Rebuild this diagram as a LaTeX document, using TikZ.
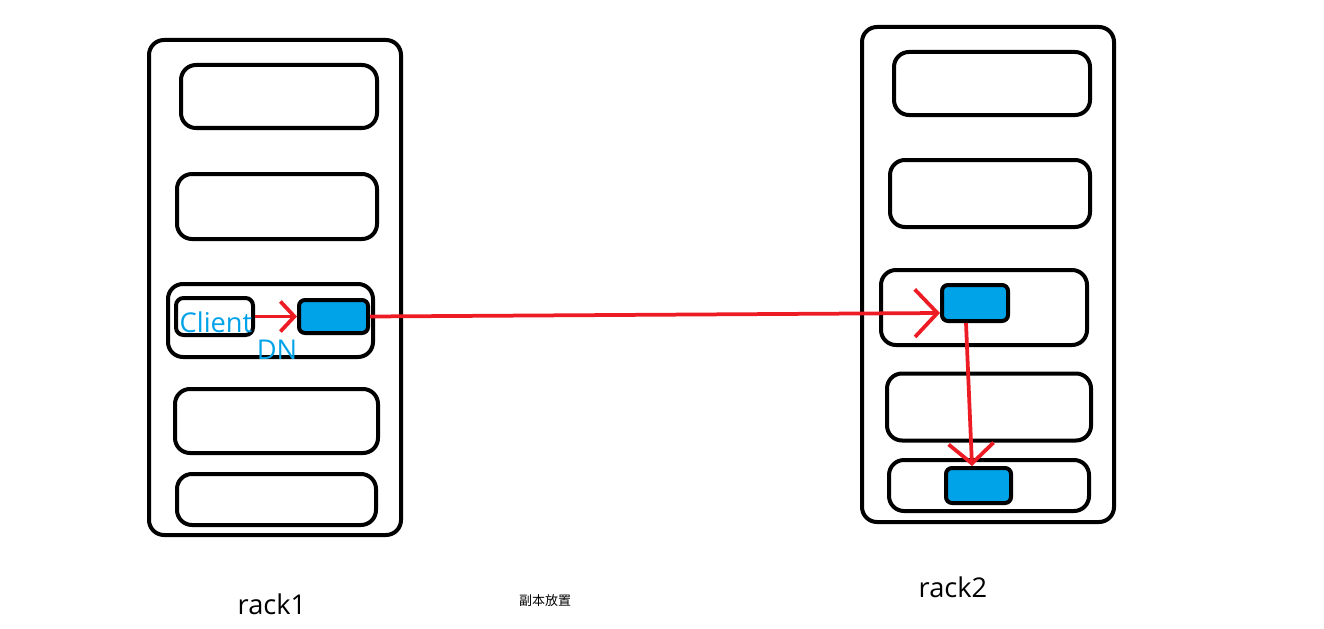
\documentclass[tikz,border=0pt]{standalone}
\usepackage{fontspec}
\setmainfont{Open Sans}
\newfontfamily\cjk{Noto Sans CJK SC}
\usetikzlibrary{arrows.meta}
\definecolor{paintblue}{HTML}{00A2E8}
\definecolor{paintred}{HTML}{ED1C24}
\begin{document}
\begin{tikzpicture}[
			rack/.style={draw, line width=0.08cm, rounded corners=0.3cm, inner sep=0pt},
			slot/.style={draw, line width=0.08cm, rounded corners=0.3cm, inner sep=0pt},
			blk/.style={draw, fill=paintblue, line width=0.08cm, rounded corners=0.12cm, inner sep=0pt},
			lbl/.style={font=\fontsize{15.5}{18}\selectfont, inner sep=0pt},
			redarrow/.style={line width=0.075cm, color=paintred}
		]
		\useasboundingbox (0,0) rectangle (26.48,-12.56);

		% rack1
		\node[rack, minimum width=5.04cm, minimum height=9.90cm] (rackA) at (5.50,-5.75) {};
		\node[slot, minimum width=3.92cm, minimum height=1.26cm] (a1) at (5.58,-1.93) {};
		\node[slot, minimum width=4.00cm, minimum height=1.30cm] (a2) at (5.54,-4.13) {};
		\node[slot, minimum width=4.10cm, minimum height=1.46cm] (a3) at (5.41,-6.41) {};
		\node[slot, minimum width=4.06cm, minimum height=1.28cm] (a4) at (5.53,-8.42) {};
		\node[slot, minimum width=3.98cm, minimum height=1.02cm] (a5) at (5.53,-9.99) {};
		\node[slot, rounded corners=0.15cm, minimum width=1.54cm, minimum height=0.74cm] (client) at (4.29,-6.33) {};
		\node[blk, minimum width=1.38cm, minimum height=0.66cm] (dnA) at (6.67,-6.33) {};
		\node[lbl, text=paintblue] (clientlbl) at (4.32,-6.44) {Client};
		\node[lbl, text=paintblue] (dnlbl) at (5.54,-7.00) {DN};

		% rack2
		\node[rack, minimum width=5.04cm, minimum height=9.90cm] (rackB) at (19.76,-5.49) {};
		\node[slot, minimum width=3.92cm, minimum height=1.26cm] (b1) at (19.84,-1.67) {};
		\node[slot, minimum width=4.00cm, minimum height=1.34cm] (b2) at (19.80,-3.87) {};
		\node[slot, minimum width=4.12cm, minimum height=1.50cm] (b3) at (19.68,-6.15) {};
		\node[slot, minimum width=4.08cm, minimum height=1.34cm] (b4) at (19.78,-8.14) {};
		\node[slot, minimum width=4.00cm, minimum height=1.02cm] (b5) at (19.78,-9.71) {};
		\node[blk, minimum width=1.32cm, minimum height=0.72cm] (dnB) at (19.50,-6.06) {};
		\node[blk, minimum width=1.30cm, minimum height=0.70cm] (dnC) at (19.57,-9.71) {};

		\node[lbl] (rackAlbl) at (5.44,-12.08) {rack1};
		\node[lbl] (rackBlbl) at (19.06,-11.74) {rack2};
		\node[font=\cjk\fontsize{7.4}{9}\selectfont, inner sep=0pt] (caption) at (10.90,-12.02) {副本放置};

		\draw[-{Straight Barb[length=0.28cm, width=0.6cm]}, redarrow] (client.east) -- (dnA.west);
		\draw[-{Straight Barb[length=0.45cm, width=0.95cm]}, redarrow] (dnA.east) -- ([yshift=-0.2cm]dnB.west);
		\draw[-{Straight Barb[length=0.4cm, width=0.9cm]}, redarrow] ([xshift=-0.18cm]dnB.south) -- ([xshift=-0.13cm]dnC.north);

	\end{tikzpicture}
\end{document}
